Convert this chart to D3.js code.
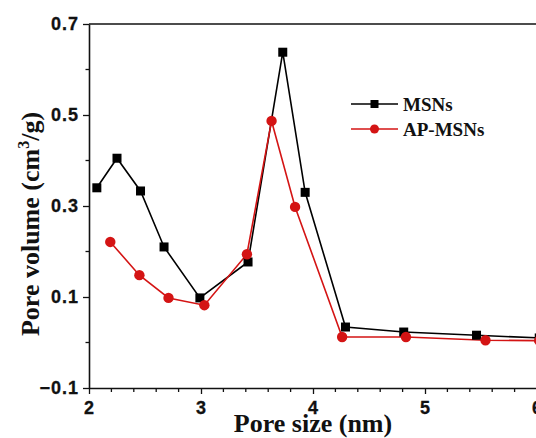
<!DOCTYPE html>
<html lang="en">
<head>
  <meta charset="UTF-8" />
  <title>Pore size distribution</title>
  <script src="https://d3js.org/d3.v7.min.js"></script>
  <style>
    body { margin: 0; background: white; }
    svg { background: white; display: block; }
    .tick-label { font-family: "Liberation Sans", Arial, sans-serif; font-weight: bold; font-size: 18px; letter-spacing: 1px; fill: #111; stroke: #111; stroke-width: 0.3px; }
    .axis-title { font-family: "Liberation Serif", "Times New Roman", serif; font-weight: bold; font-size: 26px; fill: #111; }
    .legend-label { font-family: "Liberation Serif", "Times New Roman", serif; font-weight: bold; font-size: 19px; fill: #111; }
  </style>
</head>
<body>
  <svg width="536" height="438"></svg>
  <script>
    // Data
    const msnSize = [2.07, 2.25, 2.46, 2.67, 2.99, 3.42, 3.73, 3.93, 4.29, 4.81, 5.46, 6.02];
    const msnVolume = [0.340, 0.405, 0.333, 0.210, 0.098, 0.177, 0.638, 0.330, 0.034, 0.023, 0.016, 0.010];
    const apSize = [2.19, 2.45, 2.71, 3.03, 3.41, 3.63, 3.84, 4.26, 4.83, 5.54, 6.02];
    const apVolume = [0.221, 0.148, 0.098, 0.082, 0.194, 0.487, 0.298, 0.012, 0.012, 0.005, 0.004];
    const xTicks = [2, 3, 4, 5, 6];
    const yTicks = [-0.1, 0.1, 0.3, 0.5, 0.7];
    const seriesNames = ["MSNs", "AP-MSNs"];
    const seriesColors = ["#000000", "#d41414"];

    const svg = d3.select("svg"),
          width = +svg.attr("width"),
          height = +svg.attr("height");
    const margin = { top: 24, left: 89, bottom: 50 };

    const x = d3.scaleLinear().domain([2, 6]).range([margin.left, 537]);
    const y = d3.scaleLinear().domain([-0.1, 0.7]).range([height - margin.bottom, margin.top]);

    const minorX = d3.range(2, 6.01, 0.2).filter(v => Math.abs(v - Math.round(v)) > 1e-6);
    const minorY = [0.0, 0.2, 0.4, 0.6];

    // X axis
    const xAxis = svg.append("g")
      .attr("transform", `translate(0,${y(-0.1)})`)
      .call(d3.axisBottom(x).tickValues(xTicks).tickSize(6).tickSizeOuter(0).tickFormat(d3.format("d")));
    xAxis.selectAll("text").attr("class", "tick-label").attr("dy", "0.85em").attr("y", 11);
    xAxis.append("g").selectAll("line").data(minorX).join("line")
      .attr("x1", d => x(d)).attr("x2", d => x(d)).attr("y1", 0).attr("y2", 4)
      .attr("stroke", "#111").attr("stroke-width", 1.3);

    // Y axis
    const yAxis = svg.append("g")
      .attr("transform", `translate(${margin.left},0)`)
      .call(d3.axisLeft(y).tickValues(yTicks).tickSize(6).tickSizeOuter(0).tickFormat(d3.format(".1f")));
    yAxis.selectAll("text").attr("class", "tick-label").attr("x", -10);
    yAxis.append("g").selectAll("line").data(minorY).join("line")
      .attr("x1", -3.5).attr("x2", 0).attr("y1", d => y(d)).attr("y2", d => y(d))
      .attr("stroke", "#111").attr("stroke-width", 1.3);

    svg.selectAll(".domain").attr("stroke", "#111").attr("stroke-width", 1.6);
    svg.selectAll(".tick line").attr("stroke", "#111").attr("stroke-width", 1.3);

    // top frame line
    svg.append("line")
      .attr("x1", x(2)).attr("x2", width).attr("y1", y(0.7)).attr("y2", y(0.7))
      .attr("stroke", "#111").attr("stroke-width", 1.6);

    // Axis titles
    svg.append("text")
      .attr("class", "axis-title")
      .attr("x", 313).attr("y", 432)
      .attr("text-anchor", "middle")
      .text("Pore size (nm)");

    const yTitle = svg.append("text")
      .attr("class", "axis-title")
      .attr("font-size", 25)
      .attr("transform", "translate(39,224) rotate(-90)")
      .attr("text-anchor", "middle");
    yTitle.append("tspan").text("Pore volume (cm");
    yTitle.append("tspan").attr("dy", -10).attr("font-size", 16).text("3");
    yTitle.append("tspan").attr("dy", 10).text("/g)");

    const line = d3.line().x(d => x(d[0])).y(d => y(d[1]));
    const msn = msnSize.map((s, i) => [s, msnVolume[i]]);
    const ap = apSize.map((s, i) => [s, apVolume[i]]);

    const plot = svg.append("g");

    plot.append("path").datum(msn)
      .attr("d", line).attr("fill", "none")
      .attr("stroke", seriesColors[0]).attr("stroke-width", 1.6);
    plot.append("path").datum(ap)
      .attr("d", line).attr("fill", "none")
      .attr("stroke", seriesColors[1]).attr("stroke-width", 1.6);

    const sq = 9;
    plot.selectAll(".msn-pt").data(msn).join("rect")
      .attr("x", d => x(d[0]) - sq / 2).attr("y", d => y(d[1]) - sq / 2)
      .attr("width", sq).attr("height", sq).attr("fill", seriesColors[0]);
    plot.selectAll(".ap-pt").data(ap).join("circle")
      .attr("cx", d => x(d[0])).attr("cy", d => y(d[1]))
      .attr("r", 5.2).attr("fill", seriesColors[1]);

    // Legend
    const lg = svg.append("g").attr("transform", "translate(351,104)");
    seriesNames.forEach((name, i) => {
      const g = lg.append("g").attr("transform", `translate(0,${i * 25})`);
      g.append("line").attr("x1", 0).attr("x2", 47).attr("y1", 0).attr("y2", 0)
        .attr("stroke", seriesColors[i]).attr("stroke-width", 1.6);
      if (i === 0) {
        g.append("rect").attr("x", 23.5 - 4).attr("y", -4).attr("width", 8).attr("height", 8).attr("fill", seriesColors[i]);
      } else {
        g.append("circle").attr("cx", 23.5).attr("cy", 0).attr("r", 4.5).attr("fill", seriesColors[i]);
      }
      g.append("text").attr("class", "legend-label").attr("x", 52).attr("y", 6.5).text(name);
    });
  </script>
</body>
</html>
